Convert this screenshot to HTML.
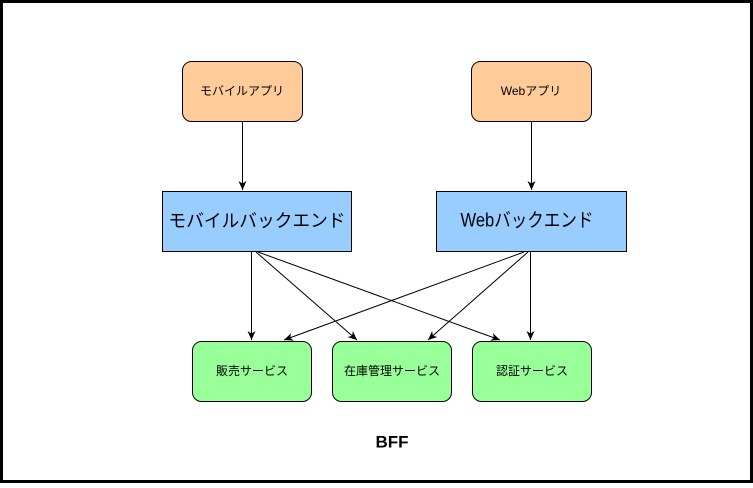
<!DOCTYPE html>
<html><head><meta charset="utf-8"><style>
html,body{margin:0;padding:0;background:#fff}
svg text{font-family:"Liberation Sans","Noto Sans CJK JP",sans-serif;text-anchor:middle;dominant-baseline:central;fill:#000}
</style></head><body>
<svg width="753" height="483" viewBox="0 0 753 483" xmlns="http://www.w3.org/2000/svg">
<defs><marker id="a" markerWidth="10" markerHeight="10" refX="9" refY="5" orient="auto" markerUnits="userSpaceOnUse"><path d="M0,1 L9,5 L0,9 L2.5,5 Z" fill="#000"/></marker></defs>
<rect x="1.5" y="1.5" width="750" height="480" fill="#fff" stroke="#000" stroke-width="3"/>
<rect x="182.5" y="61.5" width="120" height="60" rx="9" fill="#FFCC99" stroke="#000"/>
<text x="242" y="91" font-size="12">モバイルアプリ</text>
<rect x="471.5" y="61.5" width="120" height="60" rx="9" fill="#FFCC99" stroke="#000"/>
<text x="531" y="91" font-size="12">Webアプリ</text>
<rect x="162.5" y="191.5" width="189" height="60" fill="#99CCFF" stroke="#000"/>
<text x="257" y="221" font-size="18" textLength="177" lengthAdjust="spacingAndGlyphs">モバイルバックエンド</text>
<rect x="436.5" y="191.5" width="190" height="60" fill="#99CCFF" stroke="#000"/>
<text x="527" y="221" font-size="19" textLength="133" lengthAdjust="spacingAndGlyphs">Webバックエンド</text>
<rect x="192.5" y="341.5" width="119" height="60" rx="9" fill="#99FF99" stroke="#000"/>
<text x="252" y="371" font-size="12">販売サービス</text>
<rect x="332.5" y="341.5" width="119" height="60" rx="9" fill="#99FF99" stroke="#000"/>
<text x="392" y="371" font-size="12">在庫管理サービス</text>
<rect x="472.5" y="341.5" width="119" height="60" rx="9" fill="#99FF99" stroke="#000"/>
<text x="532" y="371" font-size="12">認証サービス</text>
<g stroke="#000" fill="none" marker-end="url(#a)">
<line x1="242.5" y1="122" x2="242.5" y2="190"/>
<line x1="531.5" y1="122" x2="531.5" y2="190"/>
<line x1="251.5" y1="252" x2="251.5" y2="340"/>
<line x1="256" y1="252" x2="357" y2="340"/>
<line x1="258" y1="252" x2="500" y2="340"/>
<line x1="530.5" y1="252" x2="530.5" y2="340"/>
<line x1="528" y1="252" x2="428" y2="340"/>
<line x1="524" y1="252" x2="284" y2="340"/>
</g>
<text x="392" y="442" font-size="17" font-weight="bold">BFF</text>
</svg>
</body></html>
